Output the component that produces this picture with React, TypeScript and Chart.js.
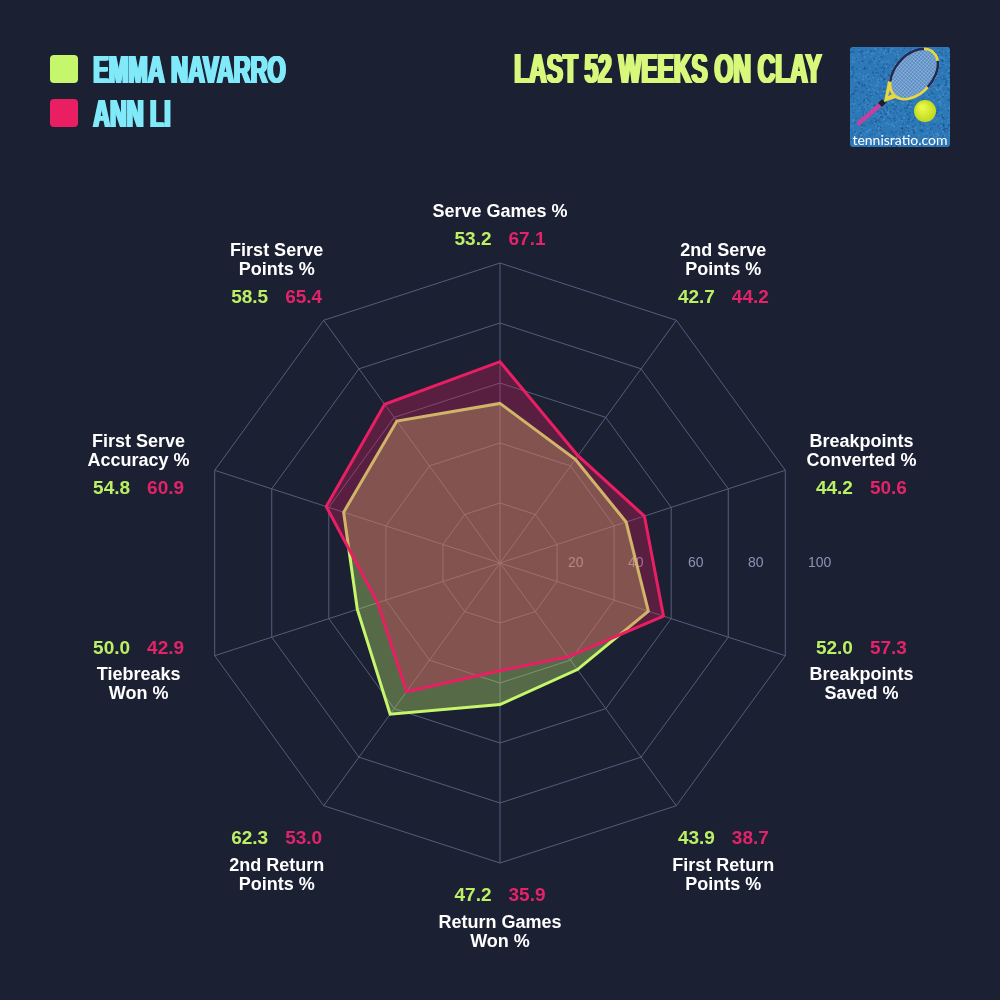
import { useEffect, useRef } from "react";
import { Chart, registerables } from "chart.js";

Chart.register(...registerables);

// Radar categories (multi-line labels)
const CATEGORIES: string[][] = [
  ["Serve Games %"],
  ["2nd Serve", "Points %"],
  ["Breakpoints", "Converted %"],
  ["Breakpoints", "Saved %"],
  ["First Return", "Points %"],
  ["Return Games", "Won %"],
  ["2nd Return", "Points %"],
  ["Tiebreaks", "Won %"],
  ["First Serve", "Accuracy %"],
  ["First Serve", "Points %"],
];

const NAVARRO_VALUES = [53.2, 42.7, 44.2, 52.0, 43.9, 47.2, 62.3, 50.0, 54.8, 58.5];
const LI_VALUES = [67.1, 44.2, 50.6, 57.3, 38.7, 35.9, 53.0, 42.9, 60.9, 65.4];
const TICK_VALUES = [20, 40, 60, 80, 100];

const PLAYER_NAMES = ["EMMA NAVARRO", "ANN LI"];
const TITLE = "LAST 52 WEEKS ON CLAY";
const SITE = "tennisratio.com";

const BG = "#1c2033";
const GREEN = "#c6f66c";
const GREEN_TEXT = "#bcf064";
const PINK = "#e91e63";
const PINK_TEXT = "#e2236a";
const CYAN = "#80eafa";
const TITLE_COLOR = "#d8f87c";
const GRID = "#555d7c";
const TICK_COLOR = "#8a93b5";

// small vertical adjustments of the category label blocks
const LABEL_NUDGE = [0, -9, 6, -5, 10, 0, 10, -5, 6, -9];

const SANS = "'Liberation Sans', Arial, sans-serif";

// heavy condensed caps: Liberation Sans Bold squeezed horizontally, stems thickened
function drawCondensed(
  ctx: CanvasRenderingContext2D,
  text: string,
  x: number,
  baseline: number,
  capHeight: number,
  width: number,
  color: string
) {
  const size = capHeight / 0.716;
  const extra = 2.6;
  ctx.save();
  ctx.font = `bold ${size}px ${SANS}`;
  ctx.textAlign = "left";
  ctx.textBaseline = "alphabetic";
  const w = ctx.measureText(text).width;
  const sx = (width - extra) / w;
  ctx.fillStyle = color;
  for (let dx = 0; dx <= extra + 0.01; dx += 0.65) {
    ctx.save();
    ctx.translate(x + dx, baseline);
    ctx.scale(sx, 1);
    ctx.fillText(text, 0, 0);
    ctx.restore();
  }
  ctx.restore();
}

function roundRect(ctx: CanvasRenderingContext2D, x: number, y: number, w: number, h: number, r: number) {
  ctx.beginPath();
  ctx.moveTo(x + r, y);
  ctx.lineTo(x + w - r, y);
  ctx.quadraticCurveTo(x + w, y, x + w, y + r);
  ctx.lineTo(x + w, y + h - r);
  ctx.quadraticCurveTo(x + w, y + h, x + w - r, y + h);
  ctx.lineTo(x + r, y + h);
  ctx.quadraticCurveTo(x, y + h, x, y + h - r);
  ctx.lineTo(x, y + r);
  ctx.quadraticCurveTo(x, y, x + r, y);
  ctx.closePath();
}

function drawLogo(ctx: CanvasRenderingContext2D, x: number, y: number, s: number) {
  ctx.save();
  roundRect(ctx, x, y, s, s, 3);
  ctx.fillStyle = "#2d79b8";
  ctx.fill();
  ctx.clip();
  // court surface speckle
  for (let i = 0; i < 1400; i++) {
    const h1 = Math.sin(i * 12.9898) * 43758.5453;
    const h2 = Math.sin(i * 78.233) * 12345.6789;
    const px = x + (h1 - Math.floor(h1)) * s;
    const py = y + (h2 - Math.floor(h2)) * s;
    ctx.fillStyle = i % 2 ? "rgba(18,55,115,0.4)" : "rgba(110,170,225,0.35)";
    ctx.fillRect(px, py, 1.4, 1.4);
  }
  // handle
  ctx.lineCap = "round";
  ctx.strokeStyle = "#c2409e";
  ctx.lineWidth = 4.5;
  ctx.beginPath();
  ctx.moveTo(x + 9, y + 76);
  ctx.lineTo(x + 30, y + 58);
  ctx.stroke();
  ctx.strokeStyle = "#1e1e28";
  ctx.lineWidth = 5.5;
  ctx.lineCap = "butt";
  ctx.beginPath();
  ctx.moveTo(x + 30, y + 58);
  ctx.lineTo(x + 34, y + 54);
  ctx.stroke();
  // throat
  ctx.fillStyle = "#e8d83e";
  ctx.beginPath();
  ctx.moveTo(x + 34, y + 55);
  ctx.lineTo(x + 38, y + 34);
  ctx.lineTo(x + 47, y + 38);
  ctx.lineTo(x + 58, y + 47);
  ctx.closePath();
  ctx.fill();
  ctx.fillStyle = "#4f8ac6";
  ctx.beginPath();
  ctx.moveTo(x + 38, y + 49);
  ctx.lineTo(x + 41, y + 40);
  ctx.lineTo(x + 48, y + 45);
  ctx.closePath();
  ctx.fill();
  // head
  const hx = x + 64;
  const hy = y + 27;
  ctx.save();
  ctx.translate(hx, hy);
  ctx.rotate(-0.85);
  ctx.beginPath();
  ctx.ellipse(0, 0, 29, 19, 0, 0, Math.PI * 2);
  ctx.fillStyle = "#5a8dc4";
  ctx.fill();
  ctx.save();
  ctx.clip();
  ctx.strokeStyle = "rgba(205,222,240,0.55)";
  ctx.lineWidth = 0.6;
  for (let k = -32; k <= 32; k += 2.6) {
    ctx.beginPath();
    ctx.moveTo(k, -22);
    ctx.lineTo(k, 22);
    ctx.stroke();
    ctx.beginPath();
    ctx.moveTo(-32, k);
    ctx.lineTo(32, k);
    ctx.stroke();
  }
  ctx.restore();
  ctx.beginPath();
  ctx.ellipse(0, 0, 29, 19, 0, 0, Math.PI * 2);
  ctx.strokeStyle = "#e8d83e";
  ctx.lineWidth = 2.6;
  ctx.stroke();
  ctx.beginPath();
  ctx.ellipse(0, 0, 29, 19, 0, -2.4, -0.5);
  ctx.strokeStyle = "#1b2a66";
  ctx.lineWidth = 2.6;
  ctx.stroke();
  ctx.beginPath();
  ctx.ellipse(0, 0, 29, 19, 0, 0.5, 1.6);
  ctx.stroke();
  ctx.restore();
  // ball
  const g = ctx.createRadialGradient(x + 72, y + 60, 2, x + 75, y + 64, 12);
  g.addColorStop(0, "#e9f84a");
  g.addColorStop(1, "#bcd618");
  ctx.fillStyle = g;
  ctx.beginPath();
  ctx.arc(x + 75, y + 64, 11, 0, Math.PI * 2);
  ctx.fill();
  // site name
  ctx.fillStyle = "#ffffff";
  ctx.font = `14px Lato, 'Open Sans', sans-serif`;
  ctx.textAlign = "center";
  ctx.textBaseline = "middle";
  ctx.fillText(SITE, x + s / 2, y + 93);
  ctx.restore();
}

const backdropPlugin = {
  id: "backdrop",
  beforeDraw(chart: any) {
    const { ctx, width, height } = chart;
    ctx.save();
    ctx.fillStyle = BG;
    ctx.fillRect(0, 0, width, height);
    ctx.restore();
  },
};

// scale numbers along the horizontal radius, beneath the filled areas
const tickTextPlugin = {
  id: "tickText",
  beforeDatasetsDraw(chart: any) {
    const r = chart.scales.r;
    const ctx: CanvasRenderingContext2D = chart.ctx;
    ctx.save();
    ctx.font = `14px ${SANS}`;
    ctx.fillStyle = TICK_COLOR;
    ctx.textAlign = "left";
    ctx.textBaseline = "middle";
    for (const v of TICK_VALUES) {
      const d = r.getDistanceFromCenterForValue(v);
      ctx.fillText(String(v), r.xCenter + d + 8, r.yCenter);
    }
    ctx.restore();
  },
};

const overlayPlugin = {
  id: "overlay",
  afterDraw(chart: any) {
    const r = chart.scales.r;
    const ctx: CanvasRenderingContext2D = chart.ctx;
    ctx.save();
    const n = CATEGORIES.length;
    for (let i = 0; i < n; i++) {
      const cx = r.getPointPosition(i, 380).x;
      const cy = r.getPointPosition(i, 351).y + 4 + LABEL_NUDGE[i];
      const angle = (i / n) * Math.PI * 2;
      const top = Math.cos(angle) > 0;
      const lines = CATEGORIES[i];
      let nameYs: number[];
      let valueY: number;
      if (top) {
        nameYs = lines.length === 1 ? [cy - 4] : [cy - 23, cy - 4];
        valueY = cy + 24;
      } else {
        valueY = cy - 22;
        nameYs = [cy + 5, cy + 24];
      }
      ctx.font = `bold 18px ${SANS}`;
      ctx.fillStyle = "#ffffff";
      ctx.textAlign = "center";
      ctx.textBaseline = "middle";
      lines.forEach((t, k) => ctx.fillText(t, cx, nameYs[k]));
      ctx.font = `bold 19px ${SANS}`;
      ctx.textAlign = "right";
      ctx.fillStyle = GREEN_TEXT;
      ctx.fillText(NAVARRO_VALUES[i].toFixed(1), cx - 8.5, valueY);
      ctx.textAlign = "left";
      ctx.fillStyle = PINK_TEXT;
      ctx.fillText(LI_VALUES[i].toFixed(1), cx + 8.5, valueY);
    }

    // legend
    const legendColors = [GREEN, PINK];
    PLAYER_NAMES.forEach((name, k) => {
      const top = 55 + k * 44;
      roundRect(ctx, 50, top, 28, 28, 4);
      ctx.fillStyle = legendColors[k];
      ctx.fill();
      drawCondensed(ctx, name, 92, top + 28, 28, k === 0 ? 195 : 80, CYAN);
    });

    // title
    drawCondensed(ctx, TITLE, 513, 83, 30, 310, TITLE_COLOR);

    drawLogo(ctx, 850, 47, 100);
    ctx.restore();
  },
};

export default function App() {
  const canvasRef = useRef<HTMLCanvasElement | null>(null);

  useEffect(() => {
    if (!canvasRef.current) return;
    const chart = new Chart(canvasRef.current, {
      type: "radar",
      data: {
        labels: CATEGORIES.map((l) => l.join(" ")),
        datasets: [
          {
            label: "Ann Li",
            data: LI_VALUES,
            borderColor: PINK,
            backgroundColor: "rgba(233,30,99,0.3)",
            borderWidth: 3,
            pointRadius: 0,
            pointHoverRadius: 0,
            order: 0,
          },
          {
            label: "Emma Navarro",
            data: NAVARRO_VALUES,
            borderColor: GREEN,
            backgroundColor: "rgba(198,246,108,0.35)",
            borderWidth: 3,
            pointRadius: 0,
            pointHoverRadius: 0,
            order: 1,
          },
        ],
      },
      options: {
        responsive: false,
        animation: false,
        devicePixelRatio: 1,
        layout: { padding: { left: 200, right: 200, top: 263, bottom: 137 } },
        plugins: {
          legend: { display: false },
          tooltip: { enabled: false },
        },
        scales: {
          r: {
            min: 0,
            max: 100,
            ticks: { display: false, stepSize: 20 },
            pointLabels: { display: false },
            grid: { color: GRID, lineWidth: 1 },
            angleLines: { color: GRID, lineWidth: 1 },
          },
        },
      },
      plugins: [backdropPlugin, tickTextPlugin, overlayPlugin],
    });
    return () => chart.destroy();
  }, []);

  return (
    <div
      style={{
        position: "fixed",
        left: 0,
        top: 0,
        width: 1000,
        height: 1000,
        background: BG,
      }}
    >
      <canvas ref={canvasRef} width={1000} height={1000} style={{ display: "block" }} />
    </div>
  );
}
